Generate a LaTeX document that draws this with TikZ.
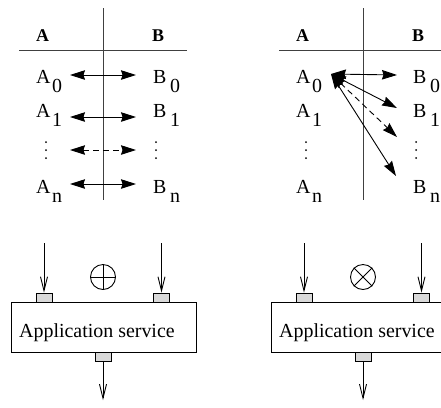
\documentclass[tikz,border=0pt]{standalone}
\usepackage{fontspec}
\setmainfont{Liberation Serif}
\usetikzlibrary{arrows.meta}
\begin{document}
\begin{tikzpicture}[x=1bp,y=-1bp,
  ln/.style={line width=0.9bp},
  gl/.style={line width=0.9bp, draw=black!75},
  lbl/.style={inner sep=0pt, anchor=base west, font=\fontsize{20}{24}\selectfont},
  hdr/.style={inner sep=0pt, anchor=base west, font=\fontsize{18}{21}\selectfont\bfseries},
  tipf/.tip={Stealth[length=15bp,width=9.5bp,inset=1.5bp]},
  dbl/.style={ln, tipf-tipf},
  inarrow/.style={ln, -{Straight Barb[length=14bp,width=7bp]}},
  port/.style={draw, line width=0.9bp, fill=black!15, minimum width=16bp, minimum height=9bp, inner sep=0pt},
  svc/.style={draw, line width=0.9bp, minimum width=185bp, minimum height=50bp, inner sep=0pt},
  dotc/.style={fill, circle, inner sep=0pt, minimum size=2bp},
  opc/.style={draw, line width=0.9bp, circle, minimum size=25bp, inner sep=0pt},
]
\useasboundingbox (0,0) rectangle (441,407);
\clip (0,0) rectangle (441,407);

% ---------- left table ----------
\draw[gl] (103,8) -- (103,200);
\draw[gl] (19,50) -- (187,50);
\node[hdr] (LhA) at (36,41) {A};
\node[hdr] (LhB) at (152,41) {B};
\node[lbl] (LA0) at (36,83) {A}; \node[lbl] (LA0s) at (52,92) {0};
\node[lbl] (LA1) at (36,117) {A}; \node[lbl] (LA1s) at (52,126) {1};
\node[lbl] (LAn) at (36,193) {A}; \node[lbl] (LAns) at (52,202) {n};
\node[lbl] (LB0) at (153,83) {B}; \node[lbl] (LB0s) at (170,92) {0};
\node[lbl] (LB1) at (153,117) {B}; \node[lbl] (LB1s) at (170,126) {1};
\node[lbl] (LBn) at (153,193) {B}; \node[lbl] (LBns) at (170,202) {n};
\foreach \yy [count=\i] in {142,150,158}{
  \node[dotc] (Lda\i) at (46,\yy) {};
  \node[dotc] (Ldb\i) at (156,\yy) {};
}
\coordinate (La0) at (70,75);  \coordinate (Lb0) at (136,75);
\coordinate (La1) at (70,117); \coordinate (Lb1) at (136,117);
\coordinate (Lad) at (70,150); \coordinate (Lbd) at (136,150);
\coordinate (Lan) at (70,184); \coordinate (Lbn) at (136,184);
\draw[dbl] (La0) -- (Lb0);
\draw[dbl] (La1) -- (Lb1);
\draw[dbl, dashed, dash pattern=on 6bp off 4bp] (Lad) -- (Lbd);
\draw[dbl] (Lan) -- (Lbn);

% ---------- right table ----------
\draw[gl] (363,8) -- (363,200);
\draw[gl] (279,50) -- (447,50);
\node[hdr] (RhA) at (296,41) {A};
\node[hdr] (RhB) at (412,41) {B};
\node[lbl] (RA0) at (296,83) {A}; \node[lbl] (RA0s) at (312,92) {0};
\node[lbl] (RA1) at (296,117) {A}; \node[lbl] (RA1s) at (312,126) {1};
\node[lbl] (RAn) at (296,193) {A}; \node[lbl] (RAns) at (312,202) {n};
\node[lbl] (RB0) at (413,83) {B}; \node[lbl] (RB0s) at (430,92) {0};
\node[lbl] (RB1) at (413,117) {B}; \node[lbl] (RB1s) at (430,126) {1};
\node[lbl] (RBn) at (413,193) {B}; \node[lbl] (RBns) at (430,202) {n};
\foreach \yy [count=\i] in {142,150,158}{
  \node[dotc] (Rda\i) at (306,\yy) {};
  \node[dotc] (Rdb\i) at (416,\yy) {};
}
\coordinate (Ra) at (331,74);
\coordinate (Rb0) at (397,75);
\coordinate (Rb1) at (397,108);
\coordinate (Rbd) at (397,137);
\coordinate (Rbn) at (396,176);
\draw[dbl] (Ra) -- (Rb0);
\draw[dbl] (Ra) -- (Rb1);
\draw[dbl, dashed, dash pattern=on 6bp off 4bp] (Ra) -- (Rbd);
\draw[dbl] (Ra) -- (Rbn);

% ---------- left service ----------
\node[svc] (Lsvc) at (103.5,327) {};
\node[lbl] (Ltxt) at (19,337) {Application service};
\node[port] (Lp1) at (44,297.5) {};
\node[port] (Lp2) at (161.5,297.5) {};
\node[port] (Lpo) at (103,356.5) {};
\coordinate (Li1) at (44,243);
\coordinate (Li2) at (161.5,243);
\coordinate (Lo) at (103,400);
\draw[inarrow] (Li1) -- (Lp1.north);
\draw[inarrow] (Li2) -- (Lp2.north);
\draw[inarrow] (Lpo.south) -- (Lo);
\node[opc] (Lop) at (103,277) {};
\draw[ln] (Lop.north) -- (Lop.south) (Lop.west) -- (Lop.east);

% ---------- right service ----------
\node[svc] (Rsvc) at (363.5,327) {};
\node[lbl] (Rtxt) at (279,337) {Application service};
\node[port] (Rp1) at (304,297.5) {};
\node[port] (Rp2) at (421.5,297.5) {};
\node[port] (Rpo) at (363,356.5) {};
\coordinate (Ri1) at (304,243);
\coordinate (Ri2) at (421.5,243);
\coordinate (Ro) at (363,400);
\draw[inarrow] (Ri1) -- (Rp1.north);
\draw[inarrow] (Ri2) -- (Rp2.north);
\draw[inarrow] (Rpo.south) -- (Ro);
\node[opc] (Rop) at (363,277) {};
\draw[ln] (Rop.45) -- (Rop.225) (Rop.135) -- (Rop.315);
\end{tikzpicture}
\end{document}
